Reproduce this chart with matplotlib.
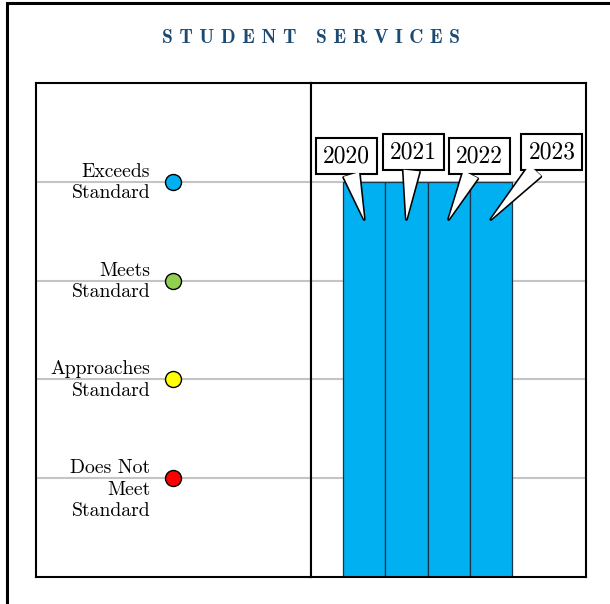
import matplotlib
matplotlib.use("Agg")
import matplotlib.pyplot as plt
from matplotlib.patches import Rectangle

plt.rcParams['font.family'] = ['cmr10', 'DejaVu Serif']
plt.rcParams['axes.unicode_minus'] = False

# data
years = ['2020', '2021', '2022', '2023']
scores = [4, 4, 4, 4]
level_names = ['Does Not\nMeet\nStandard', 'Approaches\nStandard', 'Meets\nStandard', 'Exceeds\nStandard']
level_values = [1, 2, 3, 4]
level_colors = ['#ff0000', '#ffff00', '#92d050', '#00b0f0']
bar_color = '#00b0f0'
title = 'STUDENT SERVICES'

W, H = 610, 604
fig = plt.figure(figsize=(W / 100, H / 100), dpi=100)

# outer frame (only left / top edges visible)
fig.patches.append(Rectangle((7 / W, -0.5), 1.5, 1.5 - 3 / H, transform=fig.transFigure,
                             fill=False, ec='black', lw=2.2, zorder=0))

left, right, top, bottom = 36, 586, 83, 577
mid = 311
ax_l = fig.add_axes([left / W, 1 - bottom / H, (mid - left) / W, (bottom - top) / H])
ax_r = fig.add_axes([mid / W, 1 - bottom / H, (right - mid) / W, (bottom - top) / H], sharey=ax_l)

for ax in (ax_l, ax_r):
    ax.set_ylim(0, 5)
    for v in level_values:
        ax.axhline(v, color='#c4c4c4', lw=1.5, zorder=0)
    ax.set_xticks([])
    ax.set_yticks([])
    for s in ax.spines.values():
        s.set_linewidth(1.5)
        s.set_color('black')
    ax.tick_params(left=False, bottom=False, labelleft=False, labelbottom=False)

# left panel: rating legend
ax_l.set_xlim(0, 1)
for name, v, c in zip(level_names, level_values, level_colors):
    ax_l.plot([0.498], [v], 'o', ms=11.5, mfc=c, mec='black', mew=1, zorder=3)
    ax_l.annotate(name, xy=(0.415, v), xytext=(0, 19), textcoords='offset pixels',
                  ha='right', va='top', fontsize=14.2, multialignment='right',
                  linespacing=1.25)

# right panel: bars by year
x = list(range(len(years)))
ax_r.bar(x, scores, width=1.0, color=bar_color, edgecolor='#1d3447', lw=0.9, zorder=2)
ax_r.set_xlim(-1.257, 5.25)

# callout offsets (pixels) from tip to box centre
offsets = [(-18, 63), (7, 67), (31, 63), (61, 67)]
for xi, yr, s, off in zip(x, years, scores, offsets):
    common = dict(xy=(xi, s - 0.38), xytext=off, textcoords='offset pixels',
                  ha='center', va='center', fontsize=17)
    ax_r.annotate(yr, zorder=5,
                  bbox=dict(boxstyle='square,pad=0.3', fc='white', ec='black', lw=1.5),
                  arrowprops=dict(arrowstyle='wedge,tail_width=0.68', fc='white', ec='black',
                                  lw=2.2, shrinkA=0, shrinkB=0), **common)
    # white wedge on top hides the box edge where the pointer joins
    ax_r.annotate(yr, zorder=6, color='none',
                  bbox=dict(boxstyle='square,pad=0.3', fc='none', ec='none', lw=1.5),
                  arrowprops=dict(arrowstyle='wedge,tail_width=0.68', fc='white', ec='none',
                                  lw=0, shrinkA=0, shrinkB=0), **common)

fig.text(mid / W, 1 - 38 / H, ' '.join(title), ha='center', va='center',
         fontsize=14, family='cmb10', color='#1b4a72')

fig.savefig('out.png', dpi=100)
